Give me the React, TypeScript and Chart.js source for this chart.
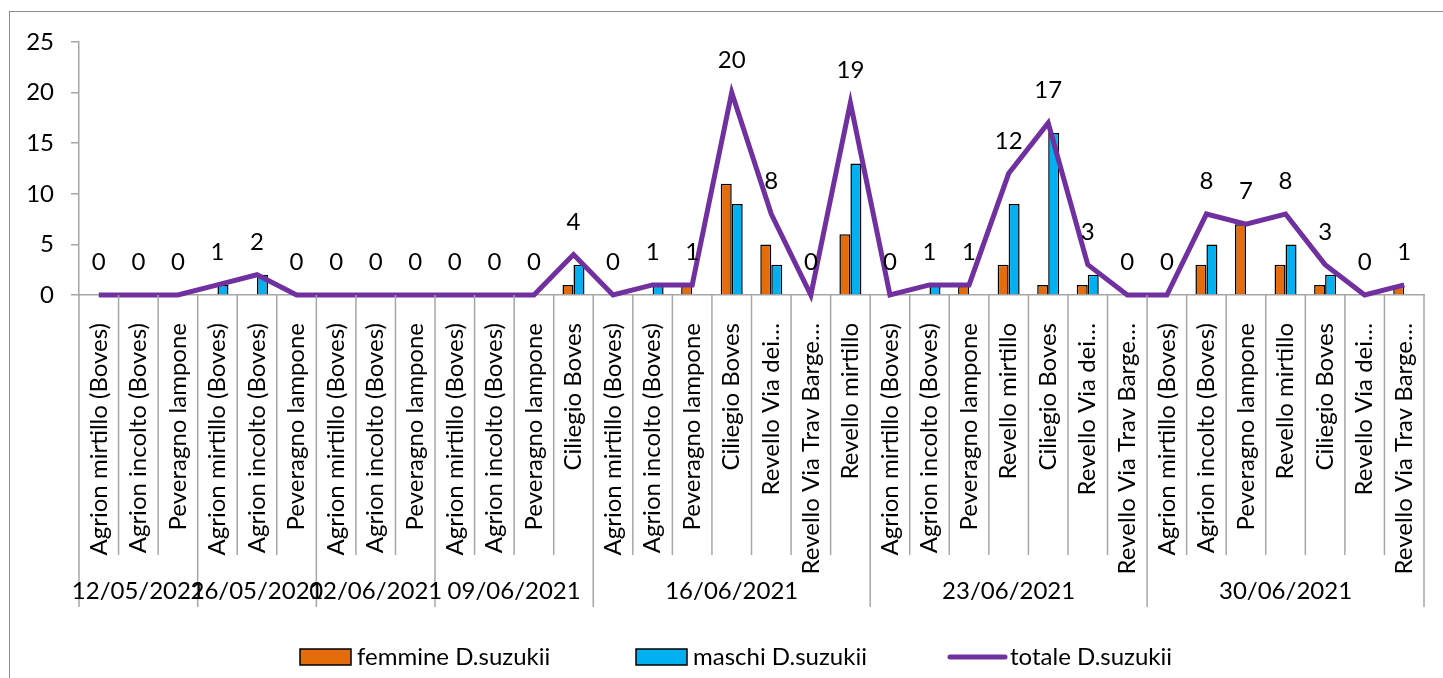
import React, { useEffect, useRef } from "react";
import { Chart, registerables } from "chart.js";

Chart.register(...registerables);

const groupDates = ["12/05/2021", "26/05/2021", "02/06/2021", "09/06/2021", "16/06/2021", "23/06/2021", "30/06/2021"];
const groupSizes = [3, 3, 3, 4, 7, 7, 7];

const siteLabels = [
  "Agrion mirtillo (Boves)", "Agrion incolto (Boves)", "Peveragno lampone",
  "Agrion mirtillo (Boves)", "Agrion incolto (Boves)", "Peveragno lampone",
  "Agrion mirtillo (Boves)", "Agrion incolto (Boves)", "Peveragno lampone",
  "Agrion mirtillo (Boves)", "Agrion incolto (Boves)", "Peveragno lampone", "Ciliegio Boves",
  "Agrion mirtillo (Boves)", "Agrion incolto (Boves)", "Peveragno lampone", "Ciliegio Boves", "Revello Via dei…", "Revello Via Trav Barge…", "Revello mirtillo",
  "Agrion mirtillo (Boves)", "Agrion incolto (Boves)", "Peveragno lampone", "Revello mirtillo", "Ciliegio Boves", "Revello Via dei…", "Revello Via Trav Barge…",
  "Agrion mirtillo (Boves)", "Agrion incolto (Boves)", "Peveragno lampone", "Revello mirtillo", "Ciliegio Boves", "Revello Via dei…", "Revello Via Trav Barge…",
];

const femmine = [
  0, 0, 0,
  0, 0, 0,
  0, 0, 0,
  0, 0, 0, 1,
  0, 0, 1, 11, 5, 0, 6,
  0, 0, 1, 3, 1, 1, 0,
  0, 3, 7, 3, 1, 0, 1,
];
const maschi = [
  0, 0, 0,
  1, 2, 0,
  0, 0, 0,
  0, 0, 0, 3,
  0, 1, 0, 9, 3, 0, 13,
  0, 1, 0, 9, 16, 2, 0,
  0, 5, 0, 5, 2, 0, 0,
];
const totale = [
  0, 0, 0,
  1, 2, 0,
  0, 0, 0,
  0, 0, 0, 4,
  0, 1, 1, 20, 8, 0, 19,
  0, 1, 1, 12, 17, 3, 0,
  0, 8, 7, 8, 3, 0, 1,
];

const seriesNames = ["femmine D.suzukii", "maschi D.suzukii", "totale D.suzukii"];
const yTicks = [0, 5, 10, 15, 20, 25];

const FONT = "Lato, 'Open Sans', sans-serif";
const FSIZE = 24;
const ORANGE = "#E46C0A";
const BLUE = "#00B0F0";
const PURPLE = "#7030A0";
const GRID = "#a6a6a6";

const decorPlugin = {
  id: "decor",
  afterDraw(chart: any) {
    const ctx = chart.ctx;
    const xs = chart.scales.x;
    const area = chart.chartArea;
    const n = siteLabels.length;
    const half = (xs.getPixelForValue(1) - xs.getPixelForValue(0)) / 2;
    const starts = new Set<number>([0]);
    let acc = 0;
    groupSizes.forEach((s) => { acc += s; starts.add(acc); });

    ctx.save();
    ctx.strokeStyle = GRID;
    ctx.lineWidth = 1.5;
    for (let i = 0; i <= n; i++) {
      const px = i < n ? xs.getPixelForValue(i) - half : xs.getPixelForValue(n - 1) + half;
      const bottom = starts.has(i) ? area.bottom + 312 : area.bottom + 260;
      ctx.beginPath();
      ctx.moveTo(px, area.bottom);
      ctx.lineTo(px, bottom);
      ctx.stroke();
    }

    // group (date) labels
    ctx.fillStyle = "#000";
    ctx.font = `${FSIZE}px ${FONT}`;
    ctx.textAlign = "center";
    ctx.textBaseline = "middle";
    let start = 0;
    groupDates.forEach((d, g) => {
      const end = start + groupSizes[g] - 1;
      const cx = (xs.getPixelForValue(start) + xs.getPixelForValue(end)) / 2;
      ctx.fillText(d, cx, area.bottom + 296);
      start = end + 1;
    });

    // data labels for totale
    const meta = chart.getDatasetMeta(2);
    ctx.textBaseline = "alphabetic";
    meta.data.forEach((pt: any, i: number) => {
      ctx.fillText(String(totale[i]), pt.x, pt.y - 25);
    });

    // legend
    const ly = 657;
    const lx = [300, 636, 950];
    ctx.textAlign = "left";
    ctx.textBaseline = "middle";
    [0, 1].forEach((k) => {
      const ds = chart.data.datasets[k];
      ctx.fillStyle = ds.backgroundColor;
      ctx.fillRect(lx[k], ly - 8, 51, 16);
      ctx.strokeStyle = "#000";
      ctx.lineWidth = 1.5;
      ctx.strokeRect(lx[k], ly - 8, 51, 16);
      ctx.fillStyle = "#000";
      ctx.fillText(ds.label, lx[k] + 57, ly);
    });
    const ld = chart.data.datasets[2];
    ctx.strokeStyle = ld.borderColor;
    ctx.lineWidth = 5;
    ctx.lineCap = "round";
    ctx.beginPath();
    ctx.moveTo(lx[2], ly);
    ctx.lineTo(lx[2] + 55, ly);
    ctx.stroke();
    ctx.fillStyle = "#000";
    ctx.fillText(ld.label, lx[2] + 60, ly);
    ctx.restore();
  },
};

export default function App() {
  const ref = useRef<HTMLCanvasElement>(null);
  useEffect(() => {
    if (!ref.current) return;
    const chart = new Chart(ref.current, {
      type: "bar",
      data: {
        labels: siteLabels,
        datasets: [
          {
            type: "bar",
            label: seriesNames[0],
            data: femmine,
            backgroundColor: ORANGE,
            borderColor: "#000",
            borderWidth: 1.5,
            order: 1,
          },
          {
            type: "bar",
            label: seriesNames[1],
            data: maschi,
            backgroundColor: BLUE,
            borderColor: "#000",
            borderWidth: 1.5,
            order: 1,
          },
          {
            type: "line",
            label: seriesNames[2],
            data: totale,
            borderColor: PURPLE,
            backgroundColor: PURPLE,
            borderWidth: 5,
            pointRadius: 0,
            tension: 0,
            clip: false as any,
            order: 0,
          } as any,
        ],
      },
      options: {
        animation: false,
        responsive: false,
        maintainAspectRatio: false,
        devicePixelRatio: 1,
        datasets: {
          bar: { categoryPercentage: 0.556, barPercentage: 1 },
        } as any,
        layout: { padding: { top: 42, left: 0, right: 19, bottom: 0 } },
        plugins: {
          legend: { display: false },
          tooltip: { enabled: false },
        },
        scales: {
          x: {
            offset: true,
            grid: { display: false },
            border: { display: true, color: GRID, width: 1.5 },
            ticks: {
              autoSkip: false,
              minRotation: 90,
              maxRotation: 90,
              padding: 20,
              color: "#000",
              font: { family: FONT, size: FSIZE },
            },
            afterFit: (scale: any) => {
              scale.height = 383;
              scale.paddingRight = 0;
              scale.paddingLeft = 0;
            },
          },
          y: {
            min: 0,
            max: 25,
            afterBuildTicks: (scale: any) => { scale.ticks = yTicks.map((v) => ({ value: v })); },
            grid: { drawOnChartArea: false, drawTicks: true, tickLength: 8, color: GRID, lineWidth: 1.5 },
            border: { display: true, color: GRID, width: 1.5 },
            ticks: {
              padding: 17,
              color: "#000",
              font: { family: FONT, size: FSIZE },
            },
            afterFit: (scale: any) => {
              scale.width = 79;
              scale.paddingTop = 0;
              scale.paddingBottom = 0;
            },
          },
        },
      },
      plugins: [decorPlugin],
    });
    return () => chart.destroy();
  }, []);

  return (
    <div style={{ position: "fixed", left: 0, top: 0, width: 1443, height: 678, background: "#fff", overflow: "hidden" }}>
      <div style={{ position: "absolute", left: 9, top: 11, width: 1450, height: 700, border: "1.5px solid #8c8c8c", boxSizing: "border-box" }} />
      <canvas ref={ref} width={1443} height={678} style={{ position: "absolute", left: 0, top: 0, width: 1443, height: 678 }} />
    </div>
  );
}
